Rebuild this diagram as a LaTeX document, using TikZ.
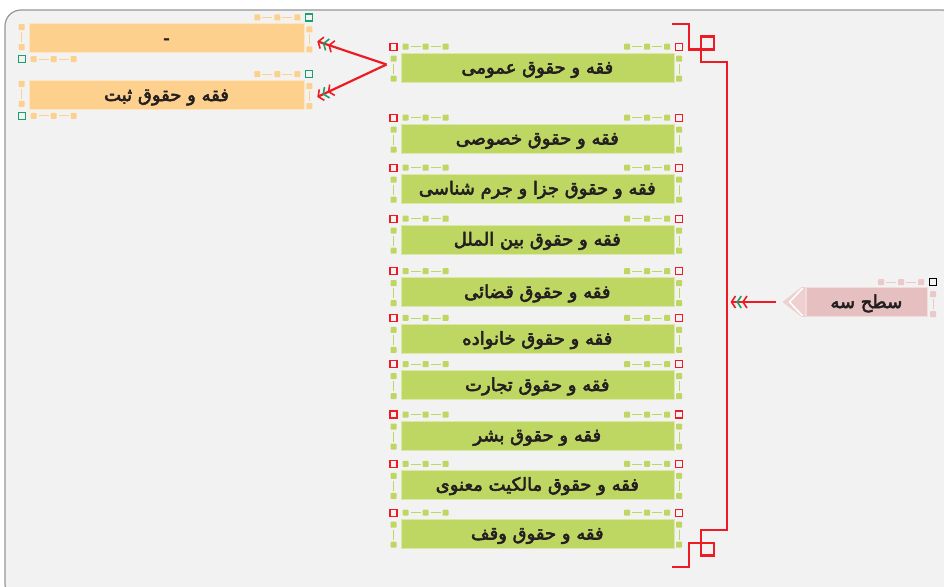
\documentclass[tikz,border=0pt]{standalone}
\usepackage{fontspec}
\usepackage{tikz}
\usetikzlibrary{arrows.meta,calc}
\TeXXeTstate=1
\newfontfamily\fa[Script=Arabic,FakeBold=3]{DejaVu Sans}
\definecolor{paper}{RGB}{242,242,242}
\definecolor{framegray}{RGB}{150,150,150}
\definecolor{topicgreen}{RGB}{190,214,98}
\definecolor{topicorange}{RGB}{253,208,142}
\definecolor{topicpink}{RGB}{230,192,192}
\definecolor{palepink}{RGB}{238,208,208}
\definecolor{linkred}{RGB}{237,28,36}
\definecolor{linkgreen}{RGB}{26,160,108}
\definecolor{ink}{RGB}{35,31,32}
\newcommand{\fatext}[1]{\beginR #1\endR}
% corner grip: #1 corner, #2 x sign, #3 y sign, #4 fill, #5 corner colour
\newcommand{\grip}[5]{%
  \begin{scope}[shift={#1}]
    \draw[#5, line width=1.3pt] (-3.5,-3.5) rectangle (3.5,3.5);
    \foreach \d in {12,32,52}
      \fill[#4, rounded corners=0.8pt] ({#2*\d-3},-3) rectangle ++(6,6);
    \foreach \d in {12,32}
      \fill[#4, rounded corners=0.8pt] (-3,{#3*\d-3}) rectangle ++(6,6);
    \draw[#4, line width=0.8pt] ({#2*17},0) -- ({#2*27},0) ({#2*37},0) -- ({#2*47},0)
      (0,{#3*17}) -- (0,{#3*27});
  \end{scope}}
\begin{document}
\begin{tikzpicture}[x=1pt,y=-1pt,
    topic/.style={fill=topicgreen, draw=topicgreen!55!white, line width=0.6pt,
      minimum width=273pt, minimum height=29pt, inner sep=0pt, text=ink,
      text height=15pt, text depth=3pt,
      font=\fa\fontsize{18}{20}\selectfont},
    subtopic/.style={topic, fill=topicorange, draw=topicorange!55!white, minimum width=275pt},
    level/.style={topic, fill=topicpink, draw=topicpink!55!white, minimum width=121pt},
    brace/.style={draw=linkred, line width=2.2pt},
    flow/.style={draw=linkred, line width=2.2pt,
      -{Straight Barb[color=linkred,length=4pt,width=12pt,line width=1.6pt]
        Straight Barb[color=linkgreen,length=4pt,width=12pt,line width=1.6pt]
        Straight Barb[color=linkred,length=4pt,width=12pt,line width=1.6pt]}}]
    \useasboundingbox (0,0) rectangle (944,586);
    \draw[draw=framegray, fill=paper, line width=1.2pt, rounded corners=16pt] (5,10) rectangle (958,600);

    % main topics
    \foreach \ty/\lbl [count=\i] in {67.5/{فقه و حقوق عمومی}, 138.5/{فقه و حقوق خصوصی},
        188.5/{فقه و حقوق جزا و جرم شناسی}, 239.5/{فقه و حقوق بین الملل},
        292/{فقه و حقوق قضائی}, 338.7/{فقه و حقوق خانواده}, 385/{فقه و حقوق تجارت},
        435.4/{فقه و حقوق بشر}, 484.7/{فقه و حقوق مالکیت معنوی}, 533.5/{فقه و حقوق وقف}} {
      \node[topic] (g\i) at (537.3,\ty) {\fatext{\lbl}};
      \grip{($(g\i.north west)+(-7,-6)$)}{1}{1}{topicgreen}{linkred}
      \grip{($(g\i.north east)+(5,-6)$)}{-1}{1}{topicgreen}{linkred}
    }

    % sub topics
    \node[subtopic] (o1) at (166.5,38.3) {-};
    \node[subtopic] (o2) at (166.5,95) {\fatext{فقه و حقوق ثبت}};
    \foreach \n in {o1,o2} {
      \grip{($(\n.north east)+(5,-6)$)}{-1}{1}{topicorange}{linkgreen}
      \grip{($(\n.south west)+(-7,6)$)}{1}{-1}{topicorange}{linkgreen}
    }

    % level label
    \node[level] (s3) at (866.3,302) {\fatext{سطح سه}};
    \fill[palepink] ($(s3.west)+(-23,0)$) -- ($(s3.north west)+(-4,0)$) -- (s3.north west)
      -- (s3.south west) -- ($(s3.south west)+(-4,0)$) -- cycle;
    \draw[white, line width=1.5pt] ($(s3.north west)+(-3,1)$) -- ($(s3.west)+(-16,0)$)
      -- ($(s3.south west)+(-3,-1)$);
    \grip{($(s3.north east)+(6,-5)$)}{-1}{1}{topicpink!85!white}{black}

    % bracket
    \draw[brace] (672,24.3) -- (689.3,24.3) -- (689.3,49.5) -- (701,49.5) -- (701,61.7)
      -- (727,61.7) -- (727,530) -- (701,530) -- (701,543) -- (689.3,543)
      -- (689.3,567.3) -- (672.3,567.3);
    \draw[brace] (701,36.5) rectangle (714.3,49.5);
    \draw[brace] (701,543) rectangle (714.3,555.5);
    \coordinate (hub) at (727,302);

    % connectors
    \coordinate (fork) at ($(g1.west)+(-14,-3)$);
    \coordinate (o1in) at ($(o1.east)+(13,3)$);
    \coordinate (o2in) at ($(o2.east)+(13,2)$);
    \draw[flow] (fork) -- (o1in);
    \draw[flow] (fork) -- (o2in);
    \draw[flow, shorten <=29.3pt, shorten >=3.5pt] (s3.west) -- (hub);
\end{tikzpicture}
\end{document}
